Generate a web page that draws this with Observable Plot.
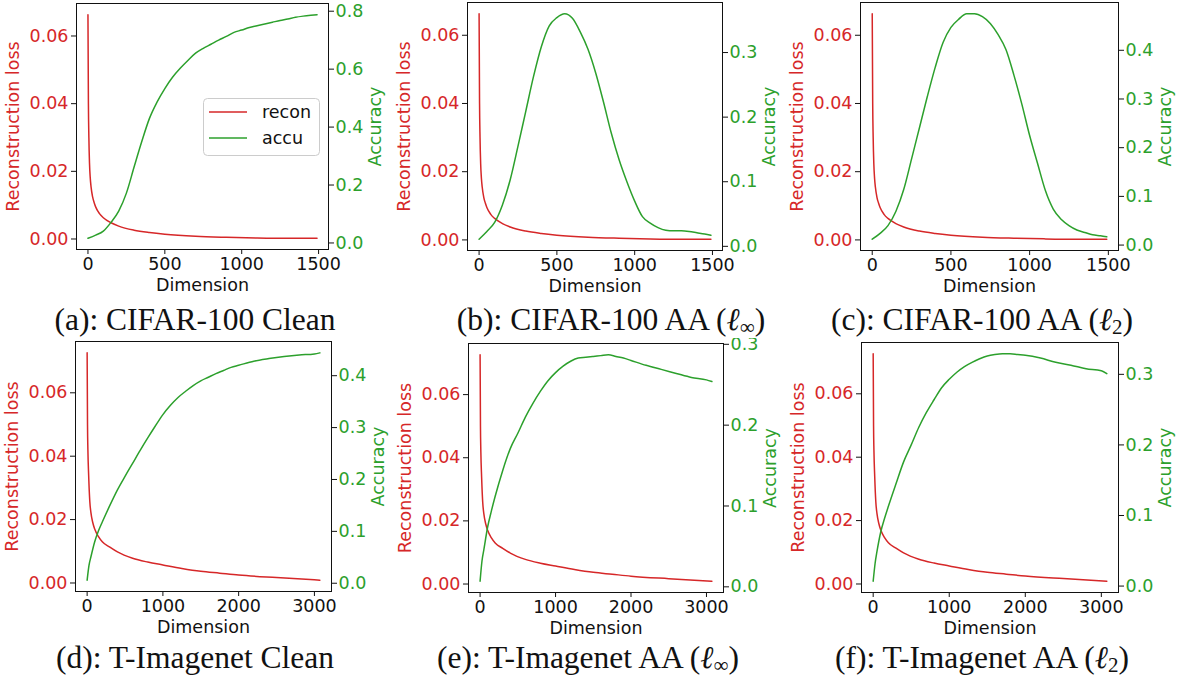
<!DOCTYPE html>
<html><head><meta charset="utf-8">
<script src="https://cdn.jsdelivr.net/npm/d3@7"></script>
<script src="https://cdn.jsdelivr.net/npm/@observablehq/plot@0.6"></script>
<style>
html,body{margin:0;padding:0;background:#fff;}
#root{position:relative;width:1186px;height:684px;overflow:hidden;font-family:"DejaVu Sans";}
.panel{position:absolute;}
.panel svg{overflow:visible;display:block;}
#overlay{position:absolute;left:0;top:0;}
</style></head><body><div id="root"></div>
<script>
const RED = "#d62728", GREEN = "#2ca02c", INK = "#111";

// ---- data ----
const cifarReconDims = [0, 3, 6, 10, 15, 20, 30, 40, 50, 75, 100, 150, 200, 300, 400, 500, 700, 900, 1100, 1300, 1490];
const cifarRecon = [0.0663, 0.040, 0.030, 0.0225, 0.018, 0.0155, 0.0125, 0.0108, 0.0095, 0.0075, 0.0063, 0.0048, 0.0038, 0.0026, 0.0019, 0.0014, 0.0008, 0.0005, 0.0003, 0.0002, 0.0002];
const tinyReconDims = [0, 5, 10, 20, 35, 50, 75, 100, 150, 200, 300, 400, 600, 800, 1000, 1250, 1500, 1750, 2000, 2500, 3072];
const tinyRecon = [0.0726, 0.050, 0.042, 0.034, 0.0258, 0.0222, 0.019, 0.0170, 0.0146, 0.0130, 0.0113, 0.0098, 0.0078, 0.0066, 0.0057, 0.0046, 0.0037, 0.0031, 0.0025, 0.0017, 0.0009];

const cifarDims = [0,50,100,150,200,250,300,350,400,450,500,550,600,650,700,750,800,850,900,950,1000,1050,1100,1150,1200,1250,1300,1350,1400,1450,1490];
const accCifarClean = [.016,.027,.041,.071,.110,.172,.262,.350,.430,.487,.533,.572,.603,.630,.655,.672,.686,.700,.713,.727,.735,.744,.750,.756,.762,.768,.773,.779,.783,.786,.788];
const accCifarLinf = [.011,.023,.037,.064,.103,.155,.209,.263,.309,.341,.354,.360,.353,.332,.305,.268,.223,.175,.134,.100,.070,.046,.036,.029,.025,.024,.024,.023,.021,.019,.017];
const accCifarL2 = [.012,.024,.040,.069,.114,.177,.241,.305,.365,.416,.447,.464,.475,.475,.469,.455,.432,.401,.349,.290,.225,.168,.112,.074,.053,.040,.031,.026,.021,.019,.017];

const tinyDims = [0,25,50,100,150,200,300,400,500,600,700,800,900,1000,1100,1200,1300,1400,1500,1600,1700,1800,1900,2000,2200,2400,2600,2800,3000,3072];
const accTinyClean = [.006,.035,.051,.080,.101,.118,.150,.180,.206,.231,.256,.280,.303,.325,.343,.358,.370,.381,.390,.397,.404,.410,.416,.420,.428,.433,.437,.440,.442,.444];
const accTinyLinf = [.007,.032,.046,.074,.094,.112,.144,.171,.190,.210,.227,.242,.255,.265,.273,.279,.283,.284,.285,.286,.287,.285,.283,.280,.274,.269,.264,.259,.256,.254];
const accTinyL2 = [.007,.032,.049,.077,.096,.113,.145,.176,.200,.225,.246,.264,.281,.293,.303,.311,.317,.322,.326,.328,.329,.329,.328,.327,.323,.317,.313,.308,.305,.301];

const xTicksCifar = [0, 500, 1000, 1500];
const xTicksTiny = [0, 1000, 2000, 3000];
const reconTicks = [0, 0.02, 0.04, 0.06];
const accTicks8 = [0, 0.2, 0.4, 0.6, 0.8];
const accTicks3 = [0, 0.1, 0.2, 0.3];
const accTicks4 = [0, 0.1, 0.2, 0.3, 0.4];

const captionTexts = ["(a): CIFAR-100 Clean", "(b): CIFAR-100 AA (", "(c): CIFAR-100 AA (", "(d): T-Imagenet Clean", "(e): T-Imagenet AA (", "(f): T-Imagenet AA ("];
const captionSubs = [null, "∞", "2", null, "∞", "2"];
const legendLabels = ["recon", "accu"];

// ---- layout ----
const panels = [
  {dims: cifarDims, acc: accCifarClean, rDims: cifarReconDims, recon: cifarRecon, xTicks: xTicksCifar, aTicks: accTicks8, f: {l: 76, t: 3, w: 252, h: 246}, cap: {x: 195, y: 330}, clipTop: null},
  {dims: cifarDims, acc: accCifarLinf, rDims: cifarReconDims, recon: cifarRecon, xTicks: xTicksCifar, aTicks: accTicks3, f: {l: 467, t: 2, w: 255, h: 248}, cap: {x: 611, y: 330}, clipTop: null},
  {dims: cifarDims, acc: accCifarL2, rDims: cifarReconDims, recon: cifarRecon, xTicks: xTicksCifar, aTicks: accTicks4, f: {l: 860, t: 2, w: 258, h: 248}, cap: {x: 982, y: 330}, clipTop: null},
  {dims: tinyDims, acc: accTinyClean, rDims: tinyReconDims, recon: tinyRecon, xTicks: xTicksTiny, aTicks: accTicks4, f: {l: 75, t: 341, w: 256, h: 250}, cap: {x: 195, y: 668}, clipTop: 338},
  {dims: tinyDims, acc: accTinyLinf, rDims: tinyReconDims, recon: tinyRecon, xTicks: xTicksTiny, aTicks: accTicks3, f: {l: 468, t: 343, w: 255, h: 249}, cap: {x: 588, y: 668}, clipTop: 338},
  {dims: tinyDims, acc: accTinyL2, rDims: tinyReconDims, recon: tinyRecon, xTicks: xTicksTiny, aTicks: accTicks3, f: {l: 861, t: 342, w: 257, h: 250}, cap: {x: 982, y: 668}, clipTop: 338},
];

const root = document.getElementById("root");
const pad = (e) => { const r = e[1] - e[0]; return [e[0] - 0.05 * r, e[1] + 0.05 * r]; };
const M = {l: 85, r: 70, t: 20, b: 60};
const FS = 17.5;

panels.forEach((p) => {
  const xDom = pad(d3.extent([...p.dims, ...p.rDims]));
  const yDom = pad(d3.extent(p.recon));
  const aDom = pad(d3.extent(p.acc));
  const toY = d3.scaleLinear(aDom, yDom);
  const reconData = p.rDims.map((d, i) => ({dim: d, v: p.recon[i]}));
  const accData = p.dims.map((d, i) => ({dim: d, v: p.acc[i]}));
  const W = p.f.w + M.l + M.r, H = p.f.h + M.t + M.b;
  const chart = Plot.plot({
    width: W, height: H,
    marginLeft: M.l, marginRight: M.r, marginTop: M.t, marginBottom: M.b,
    style: {fontFamily: "DejaVu Sans", fontSize: FS + "px", background: "transparent", overflow: "visible"},
    x: {domain: xDom},
    y: {domain: yDom},
    marks: [
      Plot.line(reconData, {x: "dim", y: "v", stroke: RED, strokeWidth: 1.5, curve: "monotone-x"}),
      Plot.line(accData, {x: "dim", y: (d) => toY(d.v), stroke: GREEN, strokeWidth: 1.5, curve: "monotone-x"}),
      Plot.axisX(p.xTicks, {tickSize: 5, tickPadding: 3, stroke: INK, fill: INK, fontSize: FS, tickFormat: d3.format("d"),
        label: "Dimension", labelAnchor: "center", labelOffset: 41, labelArrow: "none"}),
      Plot.axisY(reconTicks, {anchor: "left", tickFormat: d3.format(".2f"), tickSize: 5, tickPadding: 3,
        stroke: INK, fill: RED, fontSize: FS, label: "Reconstruction loss", labelAnchor: "center", labelOffset: 70, labelArrow: "none"}),
      Plot.axisY(p.aTicks, {anchor: "right", y: (d) => toY(d), tickFormat: d3.format(".1f"), tickSize: 5, tickPadding: 2,
        stroke: INK, fill: GREEN, fontSize: FS, label: "Accuracy", labelAnchor: "center", labelOffset: 52, labelArrow: "none"}),
      Plot.frame({stroke: INK, strokeWidth: 1})
    ]
  });
  const div = document.createElement("div");
  div.className = "panel";
  const top = p.f.t - M.t;
  div.style.left = (p.f.l - M.l) + "px";
  div.style.top = top + "px";
  div.style.width = W + "px";
  div.style.height = H + "px";
  if (p.clipTop != null) div.style.clipPath = `inset(${p.clipTop - top}px 0 0 0)`;
  div.appendChild(chart);
  root.appendChild(div);
});

// ---- overlay: captions and legend ----
const NS = "http://www.w3.org/2000/svg";
const ov = document.createElementNS(NS, "svg");
ov.setAttribute("id", "overlay");
ov.setAttribute("width", 1186);
ov.setAttribute("height", 684);
root.appendChild(ov);
function el(tag, attrs, parent) {
  const e = document.createElementNS(NS, tag);
  for (const k in attrs) e.setAttribute(k, attrs[k]);
  (parent || ov).appendChild(e);
  return e;
}
panels.forEach((p, i) => {
  const t = el("text", {x: p.cap.x, y: p.cap.y, "text-anchor": "middle", "font-family": "Liberation Serif, DejaVu Serif, serif", "font-size": 31.5, fill: "#111"});
  const a = el("tspan", {}, t); a.textContent = captionTexts[i];
  if (captionSubs[i]) {
    const l = el("tspan", {"font-style": "italic"}, t); l.textContent = "ℓ";
    const s = el("tspan", {dy: 4, "font-size": 21}, t); s.textContent = captionSubs[i];
    const c = el("tspan", {dy: -4}, t); c.textContent = ")";
  }
});
// legend in panel (a)
const lg = el("g", {});
el("rect", {x: 203.5, y: 98.5, width: 116, height: 57, rx: 4, fill: "white", "fill-opacity": 0.8, stroke: "#cccccc"}, lg);
[RED, GREEN].forEach((c, i) => {
  el("line", {x1: 209, x2: 247, y1: 112 + i * 26, y2: 112 + i * 26, stroke: c, "stroke-width": 1.5}, lg);
  const tx = el("text", {x: 262, y: 118 + i * 26, "font-family": "DejaVu Sans", "font-size": FS, fill: "#111"}, lg);
  tx.textContent = legendLabels[i];
});
</script></body></html>
